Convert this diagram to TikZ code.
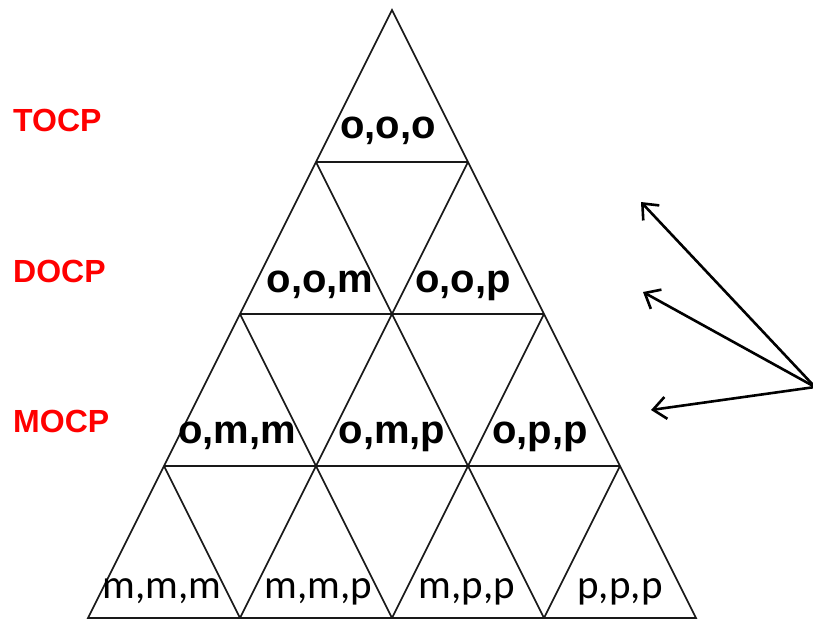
\documentclass[tikz,border=0pt]{standalone}
\usepackage{fontspec}
\setmainfont{Liberation Sans}
\newfontfamily\carlito{Carlito}
\usetikzlibrary{arrows.meta}

\begin{document}
\begin{tikzpicture}[x=1pt,y=-1pt,
	tri/.style={draw=black!90, line width=1.7pt},
	cell/.style={anchor=base, font=\fontsize{40}{48}\selectfont\bfseries},
	low/.style={anchor=base, font=\carlito\fontsize{41}{49}\selectfont},
	lvl/.style={anchor=base west, inner sep=0pt, text=red, font=\fontsize{32}{38}\selectfont\bfseries},
	pointer/.style={line width=2.6pt, -{Straight Barb[length=13pt,width=22pt]}}]
	\useasboundingbox (0,0) rectangle (813,619);
	
	% the triangle and its grid
	\draw[tri] (392,10) -- (88,618) -- (696,618) -- cycle;
	\foreach \r in {1,...,3} {
		\draw[tri] ({392-76*\r},{10+152*\r}) -- ({392+76*\r},{10+152*\r});
	}
	\foreach \r in {1,...,3} {
		\draw[tri] ({392+76*\r},{10+152*\r}) -- ({392+76*(2*\r-4)},618);
		\draw[tri] ({392-76*\r},{10+152*\r}) -- ({392+76*(4-2*\r)},618);
	}
	
	\node[lvl] (T) at (13,131) {TOCP};
	\node[lvl] (D) at (13,282) {DOCP};
	\node[lvl] (M) at (13,432) {MOCP};
	
	\node[cell] (A) at (388,138) {o,o,o};
	\node[cell] (B) at (320,292) {o,o,m};
	\node[cell] (C) at (463,292) {o,o,p};
	\node[cell] (E) at (237,443) {o,m,m};
	\node[cell] (F) at (392,443) {o,m,p};
	\node[cell] (G) at (540,443) {o,p,p};
	\node[low] (H) at (162,598) {m,m,m};
	\node[low] (I) at (318,598) {m,m,p};
	\node[low] (J) at (467,598) {m,p,p};
	\node[low] (K) at (620,598) {p,p,p};
	
	\coordinate (src) at (815,387);
	\coordinate (t1) at (641,202);
	\coordinate (t2) at (643,292);
	\coordinate (t3) at (651,410);
	
	\draw[pointer] (src) -- (t1);
	\draw[pointer] (src) -- (t2);
	\draw[pointer] (src) -- (t3);
\end{tikzpicture}
\end{document}
